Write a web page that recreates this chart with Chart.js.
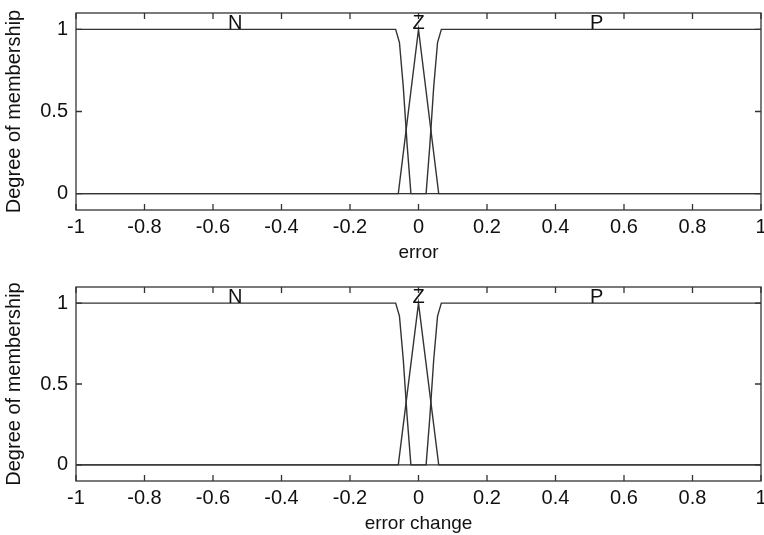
<!DOCTYPE html>
<html><head><meta charset="utf-8">
<script src="https://cdn.jsdelivr.net/npm/chart.js@4"></script>
<style>
html,body{margin:0;padding:0;background:#fff;width:764px;height:535px;overflow:hidden;}
canvas{display:block;position:absolute;left:0;}
</style>
</head><body>
<canvas id="c1" width="764" height="265" style="top:0px;width:764px;height:265px"></canvas>
<canvas id="c2" width="764" height="270" style="top:265px;width:764px;height:270px"></canvas>
<script>
// ---- data ----
const xTicks = [-1, -0.8, -0.6, -0.4, -0.2, 0, 0.2, 0.4, 0.6, 0.8, 1];
const yTicks = [0, 0.5, 1];
const nX = [-1, -0.0667, -0.0556, -0.0444, -0.0333, -0.0222, 1];
const nY = [1, 1, 0.92, 0.65, 0.3, 0, 0];
const zX = [-1, -0.059, 0, 0.059, 1];
const zY = [0, 0, 1, 0, 0];
const pX = [-1, 0.0222, 0.0333, 0.0444, 0.0556, 0.0667, 1];
const pY = [0, 0, 0.3, 0.65, 0.92, 1, 1];
const mfNames = ['N', 'Z', 'P'];
const mfLabelX = [-0.535, 0, 0.52];
const mfLabelY = 1;
const yLabel = 'Degree of membership';
const xLabels = ['error', 'error change'];

const FAMILY = '"Liberation Sans", Arial, Helvetica, sans-serif';
const INK = '#111';
const LINE = '#333';

function pts(xs, ys) { return xs.map((v, i) => ({x: v, y: ys[i]})); }

const framePlugin = {
  id: 'frame',
  afterDatasetsDraw(chart) {
    const {ctx, chartArea: a} = chart;
    const x = chart.scales.x, y = chart.scales.y;
    ctx.save();
    ctx.strokeStyle = LINE;
    ctx.lineWidth = 1.3;
    ctx.strokeRect(a.left, a.top, a.right - a.left, a.bottom - a.top);
    ctx.beginPath();
    x.ticks.forEach(t => {
      const px = x.getPixelForValue(t.value);
      ctx.moveTo(px, a.bottom); ctx.lineTo(px, a.bottom - 6);
      ctx.moveTo(px, a.top); ctx.lineTo(px, a.top + 6);
    });
    y.ticks.forEach(t => {
      const py = y.getPixelForValue(t.value);
      ctx.moveTo(a.left, py); ctx.lineTo(a.left + 6, py);
      ctx.moveTo(a.right, py); ctx.lineTo(a.right - 6, py);
    });
    ctx.stroke();
    ctx.fillStyle = INK;
    ctx.font = '20px ' + FAMILY;
    ctx.textAlign = 'center';
    ctx.textBaseline = 'alphabetic';
    mfNames.forEach((n, i) => {
      ctx.fillText(n, x.getPixelForValue(mfLabelX[i]), y.getPixelForValue(mfLabelY));
    });
    ctx.restore();
  }
};

function makeChart(id, xTitle, padTop, xAxisH, titleBottom) {
  const ds = (xs, ys) => ({
    data: pts(xs, ys), borderColor: LINE, borderWidth: 1.4,
    pointRadius: 0, tension: 0, fill: false
  });
  return new Chart(document.getElementById(id), {
    type: 'line',
    data: {datasets: [ds(nX, nY), ds(zX, zY), ds(pX, pY)]},
    options: {
      responsive: false, animation: false, devicePixelRatio: 1,
      layout: {padding: {top: padTop, right: 3, left: 0, bottom: 0}},
      plugins: {legend: {display: false}, tooltip: {enabled: false}},
      scales: {
        x: {
          type: 'linear', min: -1, max: 1,
          afterBuildTicks: s => { s.ticks = xTicks.map(v => ({value: v})); },
          afterFit: s => { s.height = xAxisH; s.paddingLeft = 0; s.paddingRight = 0; },
          grid: {display: false, drawTicks: false}, border: {display: false},
          ticks: {padding: 5, maxRotation: 0, autoSkip: false, color: INK,
                  font: {family: FAMILY, size: 20},
                  callback: v => String(Math.round(v * 10) / 10)},
          title: {display: true, text: xTitle, color: INK,
                  font: {family: FAMILY, size: 19}, padding: {top: 0, bottom: titleBottom}}
        },
        y: {
          type: 'linear', min: -0.1, max: 1.1,
          afterBuildTicks: s => { s.ticks = yTicks.map(v => ({value: v})); },
          afterFit: s => { s.width = 76; s.paddingTop = 0; s.paddingBottom = 0; },
          grid: {display: false, drawTicks: false}, border: {display: false},
          ticks: {padding: 8, color: INK, font: {family: FAMILY, size: 20},
                  callback: v => String(v)},
          title: {display: true, text: yLabel, color: INK,
                  font: {family: FAMILY, size: 20}, padding: {top: 2, bottom: 0}}
        }
      }
    },
    plugins: [framePlugin]
  });
}

makeChart('c1', xLabels[0], 13, 55, 1);
makeChart('c2', xLabels[1], 22, 54, 0);
</script>
</body></html>
